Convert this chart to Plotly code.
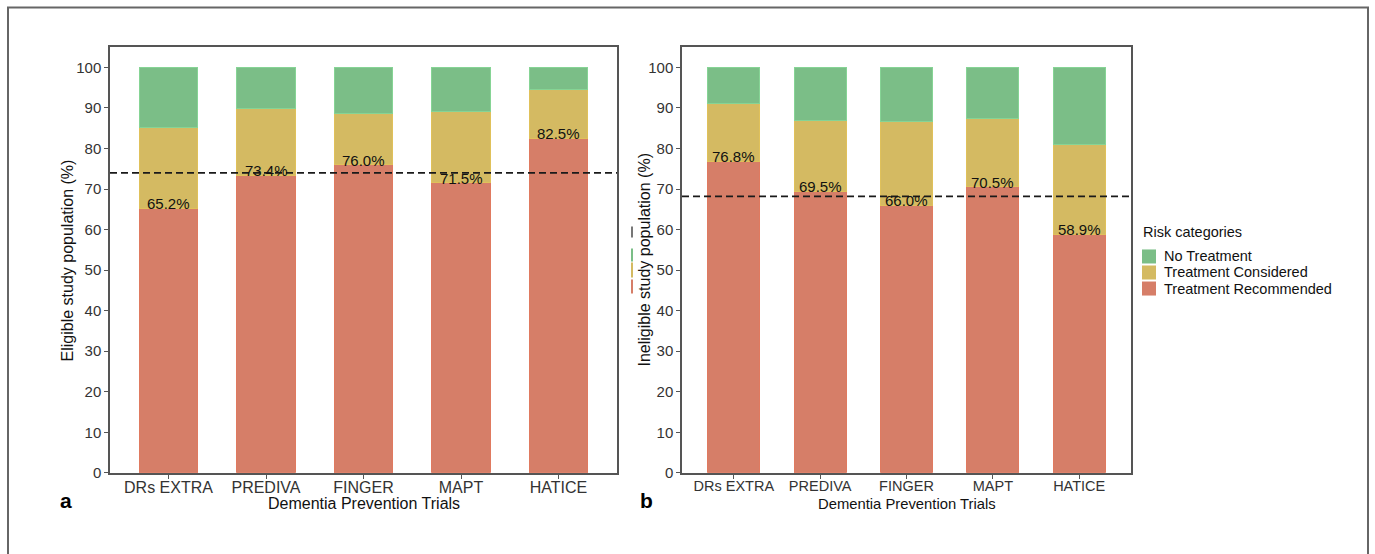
import plotly.graph_objects as go

# Dementia prevention trials and their risk-category shares (%)
trials = ["DRs EXTRA", "PREDIVA", "FINGER", "MAPT", "HATICE"]

# Panel a: eligible study population
eligible_recommended = [65.2, 73.4, 76.0, 71.5, 82.5]
eligible_considered = [20.0, 16.5, 12.6, 17.7, 12.1]
eligible_no_treatment = [14.8, 10.1, 11.4, 10.8, 5.4]
eligible_mean = 74.0

# Panel b: ineligible study population
ineligible_recommended = [76.8, 69.5, 66.0, 70.5, 58.9]
ineligible_considered = [14.2, 17.4, 20.7, 17.0, 22.0]
ineligible_no_treatment = [9.0, 13.1, 13.3, 12.5, 19.1]
ineligible_mean = 68.2

category_names = ["No Treatment", "Treatment Considered", "Treatment Recommended"]
fill_colors = ["#7BBE87", "#D4BA62", "#D67E68"]
edge_colors = ["#86D495", "#E0C15A", "#E07A60"]

W, H = 1375, 554
H_LAYOUT = 545  # vertical scale used for placing paper-coordinate items
FONT = "Liberation Sans"


def px(x):
    return x / W


def py(y):
    return 1 - y / H_LAYOUT


fig = go.Figure()

panels = [
    ("x", "y", eligible_recommended, eligible_considered, eligible_no_treatment),
    ("x2", "y2", ineligible_recommended, ineligible_considered, ineligible_no_treatment),
]

for xa, ya, rec, cons, none in panels:
    for seg, name, fc, ec in zip([rec, cons, none], ["Treatment Recommended", "Treatment Considered", "No Treatment"],
                                 fill_colors[::-1], edge_colors[::-1]):
        fig.add_trace(go.Bar(
            x=trials, y=seg, name=name, xaxis=xa, yaxis=ya, width=0.6,
            marker=dict(color=fc, line=dict(color=ec, width=1)),
            showlegend=False,
        ))

annotations = []
shapes = []

# Percent labels sitting on top of the recommended segment
for xa, ya, rec in [("x", "y", eligible_recommended), ("x2", "y2", ineligible_recommended)]:
    for t, v in zip(trials, rec):
        annotations.append(dict(
            x=t, y=v, xref=xa, yref=ya, text=f"{v:.1f}%", showarrow=False,
            xanchor="center", yanchor="bottom", yshift=-6,
            font=dict(family=FONT, size=15, color="#111"),
        ))

# Dashed reference lines for the mean
for xa, ya, m in [("x", "y", eligible_mean), ("x2", "y2", ineligible_mean)]:
    shapes.append(dict(
        type="line", xref=f"{xa} domain", yref=ya, x0=0, x1=1, y0=m, y1=m,
        line=dict(color="#1a1a1a", width=1.8, dash="7px,4px"),
    ))


def label(x, y, text, size, angle=0, anchor="center", color="#111"):
    return dict(x=px(x), y=py(y), xref="paper", yref="paper", text=text, textangle=angle,
                xanchor=anchor, yanchor="middle", showarrow=False,
                font=dict(family=FONT, size=size, color=color))


# Axis titles and panel letters
annotations += [
    label(67, 260, "Eligible study population (%)", 16, angle=-90),
    label(644, 260, "Ineligible study population (%)", 16, angle=-90),
    label(363.5, 503, "Dementia Prevention Trials", 16),
    label(907, 503, "Dementia Prevention Trials", 14.8),
    label(66, 500, "<b>a</b>", 21, color="#000"),
    label(646, 500, "<b>b</b>", 21, color="#000"),
]

# Legend drawn as keys and labels
annotations.append(label(1141, 232, "Risk categories", 14.5, anchor="left"))
for i, (name, fc) in enumerate(zip(category_names, fill_colors)):
    yc = 256 + 16 * i
    shapes.append(dict(type="rect", xref="paper", yref="paper", x0=px(1142), x1=px(1156),
                       y0=py(yc - 7), y1=py(yc + 7), fillcolor=fc, line=dict(width=0)))
    annotations.append(label(1162, yc, name, 14.5, anchor="left"))

# Small key stubs beside the second panel's axis title
for (y0, y1), c in zip([(226, 237), (248, 261), (262, 277), (279, 293)],
                       ["#777777", "#7BBE87", "#D4BA62", "#D67E68"]):
    shapes.append(dict(type="line", xref="paper", yref="paper", x0=px(632), x1=px(632),
                       y0=py(y0), y1=py(y1), line=dict(color=c, width=2)))

# Outer frame
shapes.append(dict(type="rect", xref="paper", yref="paper", x0=px(8), x1=px(1368),
                   y0=-0.1, y1=py(7.5), line=dict(color="#666", width=2), fillcolor="rgba(0,0,0,0)",
                   layer="below"))

axis_common = dict(showgrid=False, zeroline=False, showline=True, mirror=True,
                   linecolor="#555", linewidth=1.5, ticks="outside", ticklen=4,
                   tickcolor="#555", tickwidth=1)
ydom = [py(472), py(47)]

fig.update_layout(
    width=W, height=H, margin=dict(l=0, r=0, t=0, b=0),
    paper_bgcolor="white", plot_bgcolor="white", barmode="stack", bargap=0.4,
    showlegend=False,
    xaxis=dict(domain=[px(110), px(617)], anchor="y", range=[-0.6, 4.6], ticklabelstandoff=-5,
               tickfont=dict(family=FONT, size=16, color="#333"), **axis_common),
    yaxis=dict(domain=ydom, anchor="x", range=[0, 105], tickvals=list(range(0, 101, 10)),
               tickfont=dict(family=FONT, size=15, color="#333"), **axis_common),
    xaxis2=dict(domain=[px(682), px(1131)], anchor="y2", range=[-0.6, 4.6], ticklabelstandoff=-5,
                tickfont=dict(family=FONT, size=14.5, color="#333"), **axis_common),
    yaxis2=dict(domain=ydom, anchor="x2", range=[0, 105], tickvals=list(range(0, 101, 10)),
                tickfont=dict(family=FONT, size=15, color="#333"), **axis_common),
    annotations=annotations, shapes=shapes,
)

fig.write_html("out.html")
